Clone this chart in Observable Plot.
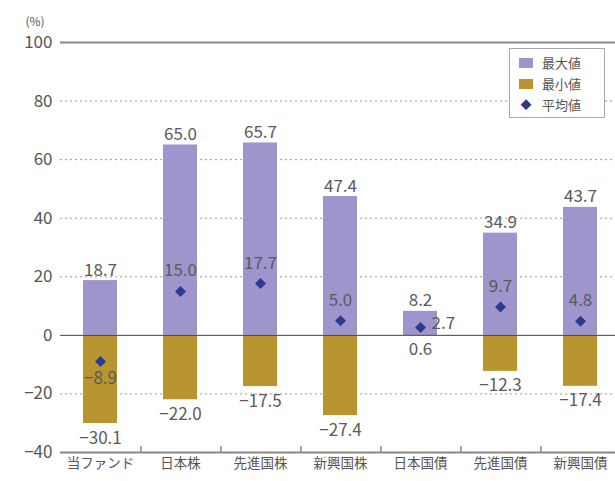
<!DOCTYPE html>
<html><head><meta charset="utf-8">
<script src="https://cdn.jsdelivr.net/npm/d3@7"></script>
<script src="https://cdn.jsdelivr.net/npm/@observablehq/plot@0.6"></script>
<style>
body{margin:0;background:#fff;}
#wrap{position:relative;width:615px;height:481px;font-family:"Noto Sans CJK JP",sans-serif;}
#legend{position:absolute;left:509px;top:48px;width:96px;height:70px;background:#fff;border:1px solid #aaa;padding:3px 0 0 9px;box-sizing:border-box;font-size:13px;color:#555;line-height:21px;}
#legend .it{display:flex;align-items:center;gap:9px;}
#legend .sw{width:14px;height:10px;display:inline-block;}
#legend .dm{width:14px;text-align:center;color:#2c3a8c;font-size:11px;}
</style></head>
<body><div id="wrap"><div id="chart"></div>
<div id="legend">
<div class="it"><span class="sw" style="background:#9d95cc"></span>最大値</div>
<div class="it"><span class="sw" style="background:#b8952f"></span>最小値</div>
<div class="it"><span class="dm">◆</span>平均値</div>
</div></div>
<script>
const categories = ["当ファンド","日本株","先進国株","新興国株","日本国債","先進国債","新興国債"];
const maxValues = [18.7, 65.0, 65.7, 47.4, 8.2, 34.9, 43.7];
const minValues = [-30.1, -22.0, -17.5, -27.4, 0.6, -12.3, -17.4];
const avgValues = [-8.9, 15.0, 17.7, 5.0, 2.7, 9.7, 4.8];
const yTicks = [-40, -20, 0, 20, 40, 60, 80, 100];

const data = categories.map((c, i) => ({cat: c, max: maxValues[i], min: minValues[i], avg: avgValues[i]}));
const fmt = d3.format(".1f");
const W = 615, ML = 60, MR = 0;
const xRange = [57, 623];
const step = (xRange[1] - xRange[0]) / categories.length;
const font = "Noto Sans CJK JP";
const txt = "#5a5a5a";

const chart = Plot.plot({
  width: W, height: 481,
  marginLeft: ML, marginRight: MR, marginTop: 42, marginBottom: 29,
  style: {fontFamily: font, background: "#fff", overflow: "visible"},
  x: {domain: categories, range: xRange, paddingInner: 0.58, paddingOuter: 0.29, label: null},
  y: {domain: [-40, 100], label: null},
  marks: [
    Plot.gridY(yTicks.filter(d => d !== 0 && d !== 100 && d !== -40), {stroke: "#999", strokeOpacity: 1, strokeDasharray: "2,3", strokeWidth: 1}),
    Plot.axisY(yTicks, {tickSize: 0, tickPadding: 8, fontSize: 17, fill: "#555", label: null}),
    Plot.text(["(%)"], {frameAnchor: "top-left", textAnchor: "start", dx: -35, dy: -25, fontSize: 12, fill: "#555"}),
    Plot.barY(data, {x: "cat", y1: 0, y2: "min", fill: "#b8952f"}),
    Plot.barY(data, {x: "cat", y1: 0, y2: "max", fill: "#9d95cc"}),
    Plot.ruleY([0], {stroke: "#444", strokeWidth: 1}),
    Plot.ruleY([100, -40], {stroke: "#888", strokeWidth: 2}),
    Plot.ruleX([0], {frameAnchor: "left", stroke: "#888", strokeWidth: 2}),
    Plot.axisX({tickSize: -6, text: null, dx: step / 2, stroke: "#888", strokeWidth: 1.5}),
    Plot.axisX({tickSize: 0, tickPadding: 6, fontSize: 13.5, fill: "#555", label: null}),
    Plot.text(data, {x: "cat", y: "max", text: d => fmt(d.max), lineAnchor: "bottom", dy: -5, fontSize: 17, fill: txt}),
    Plot.text(data, {x: "cat", y: d => Math.min(d.min, 0), text: d => fmt(d.min), lineAnchor: "top", dy: 8, fontSize: 17, fill: txt}),
    Plot.dot(data, {x: "cat", y: "avg", symbol: "square", rotate: 45, r: 4.4, fill: "#2c3a8c"}),
    Plot.text(data.filter(d => d.avg >= 0 && d.cat !== "日本国債"), {x: "cat", y: "avg", text: d => fmt(d.avg), lineAnchor: "bottom", dy: -15, fontSize: 17, fill: txt}),
    Plot.text(data.filter(d => d.avg < 0), {x: "cat", y: "avg", text: d => fmt(d.avg), lineAnchor: "top", dy: 11, fontSize: 17, fill: txt}),
    Plot.text(data.filter(d => d.cat === "日本国債"), {x: "cat", y: "avg", text: d => fmt(d.avg), textAnchor: "start", dx: 11, dy: -4, fontSize: 17, fill: txt})
  ]
});
document.getElementById("chart").appendChild(chart);
</script></body></html>
